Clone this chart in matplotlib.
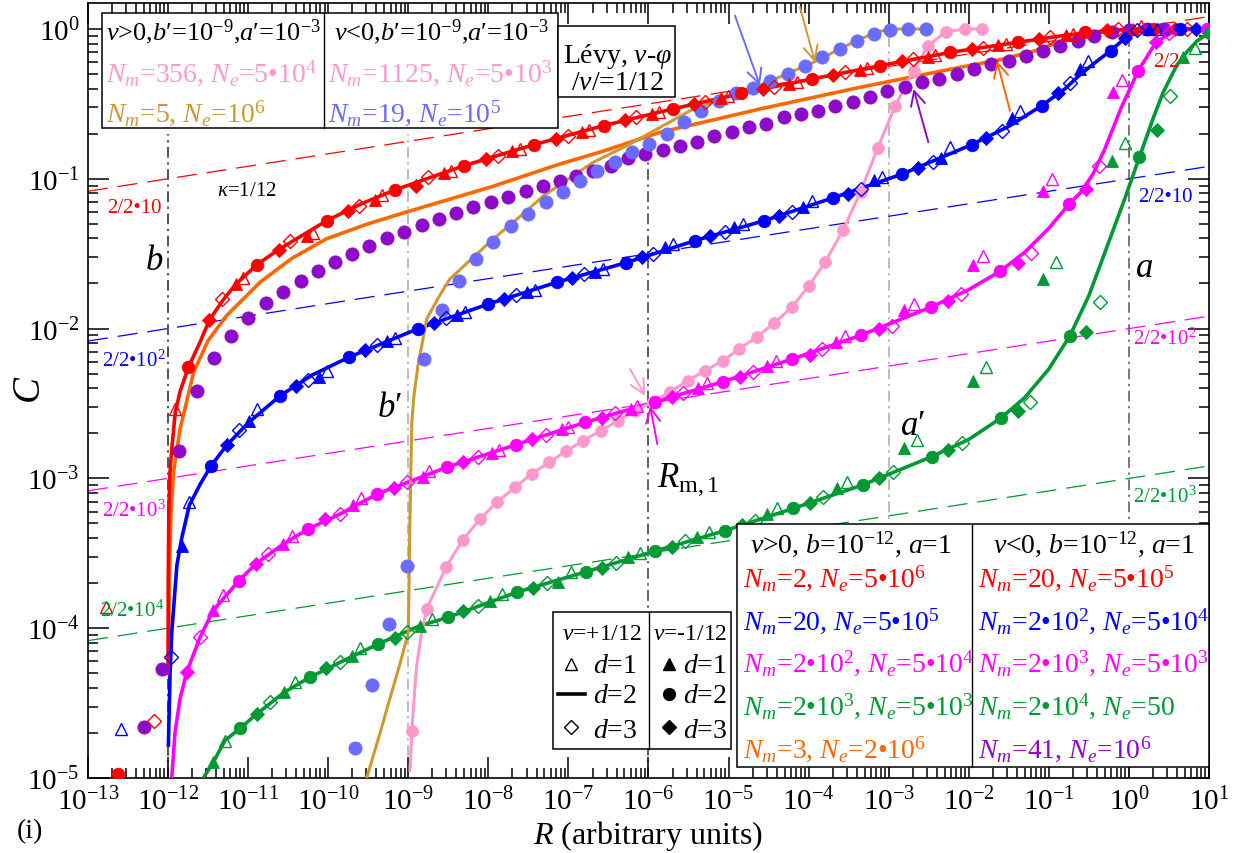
import numpy as np
import matplotlib
matplotlib.use('Agg')
import matplotlib.pyplot as plt
from matplotlib.patches import Rectangle
from matplotlib.ticker import LogLocator, FuncFormatter, NullFormatter

plt.rcParams['font.family'] = ['Liberation Serif', 'DejaVu Serif']
plt.rcParams['mathtext.fontset'] = 'custom'
plt.rcParams['mathtext.rm'] = 'Liberation Serif'
plt.rcParams['mathtext.it'] = 'Liberation Serif:italic'
plt.rcParams['mathtext.bf'] = 'Liberation Serif:bold'
plt.rcParams['mathtext.default'] = 'it'

# ---------------- data (log10 R , log10 C) ----------------
# red, v>0, b=1e-12 (line) and v<0 markers
red_line_x = [-11.9996, -11.998, -11.99, -11.975, -11.95, -11.91, -11.85, -11.746, -11.6, -11.483, -11.3, -11.15, -10.89, -10.62, -10.3, -10.02, -9.6, -9.16, -8.30, -7.43, -6.56, -5.70, -4.84, -3.96, -3.11, -2.23, -1.39, -0.9, -0.55, -0.2, 0.2, 1.0]
red_line_y = [-4.3, -3.7, -3.2, -2.95, -2.78, -2.56, -2.42, -2.258, -2.09, -1.941, -1.80, -1.702, -1.573, -1.473, -1.37, -1.28, -1.17, -1.073, -0.912, -0.772, -0.645, -0.534, -0.43, -0.334, -0.245, -0.156, -0.089, -0.05, -0.025, -0.008, 0.0, 0.0]
red_c_x = [-11.746, -10.89, -10.02, -9.16, -8.30, -7.43, -6.56, -5.70, -4.84, -3.96, -3.11, -2.23, -1.39, -0.55, 0.3]
red_c_y = [-2.258, -1.573, -1.28, -1.073, -0.912, -0.772, -0.645, -0.534, -0.43, -0.334, -0.245, -0.156, -0.089, -0.022, 0.0]
red_d_x = [-11.483, -10.62, -9.75, -8.90, -8.03, -7.16, -6.29, -5.43, -4.57, -3.69, -2.84, -1.96, -1.12, -0.28, 0.58]
red_d_y = [-1.941, -1.473, -1.215, -1.046, -0.868, -0.733, -0.61, -0.502, -0.40, -0.306, -0.217, -0.135, -0.065, -0.01, 0.0]
red_od_x = [-12.18, -11.33, -10.48, -9.61, -8.75, -7.876, -7.01, -6.15, -5.29, -4.43, -3.55, -2.70, -1.82, -0.98, -0.14, 0.72]
red_od_y = [-4.62, -1.802, -1.413, -1.18, -0.99, -0.846, -0.712, -0.59, -0.485, -0.385, -0.29, -0.203, -0.124, -0.055, 0.0, 0.0]
red_t_x = [-11.15, -10.27, -9.42, -8.56, -7.70, -6.83, -5.96, -5.10, -4.24, -3.36, -2.51, -1.63, -0.79, 0.05]
red_t_y = [-1.702, -1.385, -1.14, -0.96, -0.815, -0.685, -0.567, -0.46, -0.364, -0.272, -0.185, -0.108, -0.04, 0.0]
red_ot_x = [-12.775, -11.91, -11.06, -10.19, -9.33, -8.47, -7.61, -6.74, -5.87, -5.01, -4.15, -3.27, -2.42, -1.54, -0.70, 0.15]
red_ot_y = [-3.86, -2.54, -1.66, -1.36, -1.11, -0.945, -0.80, -0.672, -0.555, -0.45, -0.354, -0.262, -0.175, -0.10, -0.035, 0.02]
red_stray_x = [-12.62]
red_stray_y = [-4.97]

# blue
blue_line_x = [-11.996, -11.975, -11.954, -11.89, -11.83, -11.735, -11.6, -11.468, -11.27, -11.0, -10.60, -10.2, -9.737, -8.875, -8.0, -7.146, -6.28, -5.42, -4.557, -3.70, -2.83, -1.964, -1.5, -1.09, -0.8, -0.6, -0.4, -0.228, -0.05, 0.15, 1.0]
blue_line_y = [-4.78, -4.3, -4.03, -3.58, -3.40, -3.18, -3.04, -2.92, -2.78, -2.63, -2.448, -2.31, -2.19, -2.0, -1.836, -1.691, -1.56, -1.413, -1.28, -1.128, -0.968, -0.772, -0.65, -0.512, -0.40, -0.30, -0.215, -0.145, -0.062, -0.005, 0.0]
blue_c_x = [-11.468, -10.60, -9.737, -8.875, -8.0, -7.146, -6.28, -5.42, -4.557, -3.70, -2.83, -1.964, -1.09, -0.228, 0.64]
blue_c_y = [-2.92, -2.448, -2.19, -2.0, -1.836, -1.691, -1.56, -1.413, -1.28, -1.128, -0.968, -0.772, -0.512, -0.145, 0.0]
blue_d_x = [-11.27, -10.40, -9.54, -8.675, -7.80, -6.95, -6.08, -5.23, -4.37, -3.505, -2.63, -1.78, -0.89, -0.05, 0.84]
blue_d_y = [-2.78, -2.38, -2.14, -1.96, -1.80, -1.66, -1.525, -1.38, -1.246, -1.10, -0.925, -0.73, -0.43, -0.062, 0.0]
blue_od_x = [-11.967, -11.12, -10.25, -9.39, -8.525, -7.65, -6.80, -5.94, -5.04, -4.21, -3.35, -2.45, -1.59, -0.74, 0.1]
blue_od_y = [-4.19, -2.68, -2.34, -2.11, -1.93, -1.775, -1.635, -1.502, -1.357, -1.22, -1.065, -0.89, -0.683, -0.36, -0.01]
blue_t_x = [-11.83, -10.99, -10.12, -9.26, -8.395, -7.52, -6.67, -5.795, -4.93, -4.07, -3.19, -2.35, -1.466, -0.61, 0.25]
blue_t_y = [-3.45, -2.615, -2.32, -2.08, -1.91, -1.755, -1.62, -1.457, -1.324, -1.186, -1.008, -0.86, -0.594, -0.27, 0.0]
blue_ot_x = [-12.59, -11.735, -10.89, -10.02, -9.16, -8.295, -7.42, -6.57, -5.69, -4.82, -3.96, -3.09, -2.235, -1.36, -0.507, 0.35]
blue_ot_y = [-4.67, -3.16, -2.54, -2.28, -2.06, -1.89, -1.74, -1.60, -1.435, -1.30, -1.15, -0.99, -0.79, -0.545, -0.212, 0.0]

# magenta
mag_line_x = [-11.954, -11.913, -11.85, -11.768, -11.60, -11.435, -11.115, -10.905, -10.56, -10.25, -9.853, -9.387, -8.52, -7.655, -6.79, -5.925, -5.066, -4.204, -3.34, -2.477, -2.0, -1.61, -1.3, -1.0, -0.745, -0.6, -0.45, -0.3, -0.1, 0.117, 0.338, 0.55, 0.8, 1.0]
mag_line_y = [-5.0, -4.695, -4.47, -4.295, -4.06, -3.88, -3.683, -3.571, -3.438, -3.338, -3.238, -3.104, -2.926, -2.775, -2.626, -2.49, -2.354, -2.203, -2.043, -1.858, -1.74, -1.618, -1.49, -1.33, -1.168, -1.09, -0.97, -0.80, -0.53, -0.278, -0.089, -0.02, 0.0, 0.0]
mag_c_x = [-11.115, -10.25, -9.387, -8.52, -7.655, -6.79, -5.925, -5.066, -4.204, -3.34, -2.477, -1.61, -0.745, 0.117, 0.98]
mag_c_y = [-3.683, -3.338, -3.104, -2.926, -2.775, -2.626, -2.49, -2.354, -2.203, -2.043, -1.858, -1.618, -1.168, -0.278, 0.0]
mag_d_x = [-11.768, -10.905, -10.04, -9.175, -8.313, -7.45, -6.585, -5.71, -4.86, -3.98, -3.117, -2.255, -1.39, -0.536, 0.338]
mag_d_y = [-4.295, -3.571, -3.271, -3.066, -2.889, -2.74, -2.595, -2.459, -2.32, -2.176, -2.003, -1.813, -1.562, -1.068, -0.089]
mag_od_x = [-11.60, -10.748, -9.853, -9.02, -8.126, -7.28, -6.42, -5.565, -4.69, -3.83, -2.963, -2.10, -1.227, -0.37, 0.5]
mag_od_y = [-4.06, -3.505, -3.238, -3.026, -2.86, -2.71, -2.565, -2.43, -2.29, -2.136, -1.98, -1.77, -1.495, -0.912, -0.03]
mag_t_x = [-11.435, -10.56, -9.687, -8.81, -7.95, -7.08, -6.22, -5.38, -4.52, -3.66, -2.805, -1.944, -1.07, -0.203]
mag_t_y = [-3.88, -3.438, -3.178, -2.99, -2.83, -2.67, -2.535, -2.399, -2.248, -2.087, -1.876, -1.573, -1.083, -0.418]
mag_ot_x = [-11.32, -10.456, -9.594, -8.737, -7.87, -7.0, -6.14, -5.275, -4.41, -3.546, -2.68, -1.82, -0.955, -0.09]
mag_ot_y = [-3.78, -3.383, -3.133, -2.949, -2.81, -2.655, -2.515, -2.363, -2.214, -2.047, -1.836, -1.513, -1.0, -0.34]

# green
grn_line_x = [-11.56, -11.435, -11.29, -11.10, -10.893, -10.55, -10.23, -9.853, -9.374, -8.854, -8.50, -7.646, -6.78, -5.915, -5.044, -4.19, -3.327, -2.463, -2.0, -1.598, -1.3, -1.0, -0.736, -0.5, -0.278, -0.05, 0.13, 0.3, 0.43, 0.6, 0.72, 0.85, 1.0]
grn_line_y = [-5.0, -4.895, -4.75, -4.668, -4.573, -4.428, -4.328, -4.228, -4.105, -3.983, -3.927, -3.76, -3.623, -3.485, -3.349, -3.2, -3.044, -2.855, -2.74, -2.597, -2.46, -2.27, -2.047, -1.78, -1.46, -1.13, -0.857, -0.60, -0.42, -0.24, -0.156, -0.08, -0.027]
grn_c_x = [-11.10, -10.23, -9.374, -8.50, -7.646, -6.78, -5.915, -5.044, -4.19, -3.327, -2.463, -1.598, -0.736, 0.13, 1.01]
grn_c_y = [-4.668, -4.328, -4.105, -3.927, -3.76, -3.623, -3.485, -3.349, -3.2, -3.044, -2.855, -2.597, -2.047, -0.857, -0.027]
grn_d_x = [-10.893, -10.03, -9.166, -8.313, -7.44, -6.585, -5.71, -4.838, -3.98, -3.117, -2.255, -1.39, -0.536, 0.347]
grn_d_y = [-4.573, -4.268, -4.067, -3.883, -3.734, -3.6, -3.455, -3.31, -3.164, -3.0, -2.808, -2.552, -2.02, -0.674]
grn_od_x = [-10.727, -9.853, -9.02, -8.126, -7.27, -6.41, -5.54, -4.67, -3.82, -2.943, -2.09, -1.235, -0.36, 0.513]
grn_od_y = [-4.495, -4.228, -4.027, -3.85, -3.70, -3.565, -3.42, -3.282, -3.126, -2.959, -2.764, -2.492, -1.824, -0.445]
grn_t_x = [-11.435, -10.55, -9.707, -8.854, -7.98, -7.13, -6.25, -5.39, -4.524, -3.65, -2.805, -1.944, -1.07, -0.207, 0.67]
grn_t_y = [-4.895, -4.428, -4.183, -3.983, -3.816, -3.69, -3.527, -3.39, -3.238, -3.066, -2.8, -2.348, -1.669, -0.879, -0.189]
grn_ot_x = [-11.29, -10.415, -9.603, -8.71, -7.834, -6.97, -6.10, -5.24, -4.4, -3.525, -2.65, -1.78, -0.91, -0.05, 0.826]
grn_ot_y = [-4.75, -4.36, -4.134, -3.938, -3.772, -3.627, -3.50, -3.36, -3.2, -3.022, -2.742, -2.258, -1.557, -0.763, -0.129]

# orange line (v>0, Nm=3)
org_line_x = [-11.995, -11.985, -11.965, -11.93, -11.85, -11.68, -11.5, -11.27, -10.85, -10.45, -10.02, -9.5, -8.98, -7.94, -7.105, -6.61, -5.856, -4.607, -3.358, -2.11, -1.65, -1.2, -0.86, -0.6, -0.2, 1.0]
org_line_y = [-4.23, -3.7, -3.25, -2.95, -2.67, -2.29, -2.08, -1.914, -1.69, -1.53, -1.40, -1.30, -1.215, -1.05, -0.901, -0.823, -0.69, -0.534, -0.389, -0.256, -0.21, -0.15, -0.085, -0.04, -0.005, 0.0]

# purple circles (v<0, Nm=41)
pur_x = [-12.30, -12.08, -11.86, -11.643, -11.427, -11.214, -10.998, -10.78, -10.56, -10.344, -10.13, -9.915, -9.70, -9.487, -9.27, -9.05, -8.833, -8.617, -8.404, -8.188, -7.967, -7.75, -7.534, -7.32, -7.105, -6.90, -6.69, -6.47, -6.26, -6.04, -5.82, -5.61, -5.39, -5.18, -4.96, -4.75, -4.53, -4.31, -4.10, -3.88, -3.67, -3.45, -3.23, -3.02, -2.80, -2.58, -2.37, -2.15, -1.94, -1.72, -1.50, -1.29, -1.07, -0.86, -0.64, -0.43, -0.21, 0.0, 0.22, 0.44]
pur_y = [-4.66, -4.27, -2.815, -2.414, -2.198, -2.051, -1.931, -1.829, -1.753, -1.68, -1.613, -1.557, -1.502, -1.447, -1.397, -1.357, -1.308, -1.268, -1.228, -1.19, -1.153, -1.119, -1.079, -1.046, -1.013, -0.979, -0.946, -0.912, -0.862, -0.834, -0.806, -0.779, -0.752, -0.712, -0.686, -0.656, -0.634, -0.589, -0.567, -0.545, -0.512, -0.489, -0.456, -0.412, -0.389, -0.356, -0.334, -0.30, -0.267, -0.234, -0.212, -0.178, -0.145, -0.111, -0.078, -0.049, -0.022, -0.005, 0.0, 0.0]

# light blue circles (v<0, Nm=19, b'=1e-9)
lb_x = [-9.665, -9.45, -9.237, -9.02, -8.80, -8.583, -8.366, -8.154, -7.94, -7.72, -7.51, -7.285, -7.07, -6.855, -6.64, -6.42, -6.21, -5.99, -5.77, -5.56, -5.34, -5.12, -4.91, -4.69, -4.48, -4.26, -4.05, -3.83, -3.61, -3.40, -3.19, -2.98, -2.76, -2.54]
lb_y = [-4.80, -4.377, -3.972, -3.583, -2.203, -1.874, -1.68, -1.535, -1.42, -1.317, -1.235, -1.153, -1.086, -1.013, -0.95, -0.885, -0.823, -0.765, -0.70, -0.62, -0.545, -0.48, -0.43, -0.395, -0.35, -0.30, -0.25, -0.19, -0.135, -0.08, -0.035, -0.005, 0.0, 0.0]

# gold line (v>0, Nm=5, b'=1e-9)
gold_x = [-9.52, -9.35, -9.23, -9.10, -9.0, -8.99, -8.98, -8.97, -8.955, -8.93, -8.88, -8.82, -8.77, -8.62, -8.48, -8.2, -7.94, -7.6, -7.31, -6.69, -6.27, -5.44, -4.607, -3.94, -3.36, -3.1, -2.98, -2.53]
gold_y = [-5.0, -4.695, -4.47, -4.23, -4.03, -3.7, -3.3, -3.0, -2.62, -2.45, -2.25, -2.08, -1.936, -1.79, -1.669, -1.53, -1.402, -1.25, -1.113, -0.89, -0.779, -0.534, -0.378, -0.222, -0.067, -0.015, 0.0, 0.0]

# pink (Nm=356 / 1125, b'=1e-9, a'=1e-3)
pink_line_x = [-8.978, -8.957, -8.896, -8.833, -8.77, -8.53, -8.32, -8.104, -7.888, -7.667, -7.46, -7.24, -7.03, -6.814, -6.597, -6.377, -6.17, -5.94, -5.73, -5.51, -5.295, -5.07, -4.866, -4.65, -4.43, -4.21, -4.0, -3.79, -3.567, -3.35, -3.14, -2.92, -2.69, -2.51, -2.28, -2.05, -1.83]
pink_line_y = [-4.95, -4.684, -4.25, -4.03, -3.872, -3.594, -3.41, -3.271, -3.156, -3.06, -2.97, -2.893, -2.819, -2.748, -2.681, -2.615, -2.548, -2.488, -2.421, -2.348, -2.281, -2.214, -2.136, -2.058, -1.963, -1.858, -1.718, -1.553, -1.34, -1.086, -0.797, -0.516, -0.278, -0.111, -0.018, 0.0, 0.0]
pink_c_x = [-8.957, -8.77, -8.53, -8.32, -8.104, -7.888, -7.667, -7.46, -7.24, -7.03, -6.814, -6.597, -6.377, -6.17, -5.94, -5.73, -5.51, -5.295, -5.07, -4.866, -4.65, -4.43, -4.21, -4.0, -3.79, -3.567, -3.35, -3.14, -2.92, -2.69, -2.51, -2.28, -2.05, -1.83]
pink_c_y = [-4.684, -3.872, -3.594, -3.41, -3.271, -3.156, -3.06, -2.97, -2.893, -2.819, -2.748, -2.681, -2.615, -2.548, -2.488, -2.421, -2.348, -2.281, -2.214, -2.136, -2.058, -1.963, -1.858, -1.718, -1.553, -1.34, -1.086, -0.797, -0.516, -0.278, -0.111, -0.018, 0.0, 0.0]

# reference dashed lines C = k (R/b)^(1/12): end points
dash_x = [-13.0, 1.0]
dash_red_y = [-1.083, 0.083]
dash_blue_y = [-2.083, -0.917]
dash_mag_y = [-3.083, -1.917]
dash_grn_y = [-4.083, -2.917]

# vertical markers b, b', R_m1, a', a
vline_x = [-12.0, -9.0, -6.0, -3.0, 0.0]

COL = dict(red='#ff0000', blue='#0000ff', mag='#ff00ff', grn='#009933',
           org='#ff6600', pur='#8c0ac8', lb='#6b6bff', pink='#ff99cc', gold='#cc9933')


def P(v):
    return 10.0 ** np.asarray(v, dtype=float)


def AX(px, py):
    return ((px - 88) / 1121.0, (779 - py) / 775.0)


fig = plt.figure(figsize=(12.43, 8.54), dpi=100)
ax = fig.add_axes([88 / 1243, 75 / 854, 1121 / 1243, 775 / 854])
ax.set_xscale('log')
ax.set_yscale('log')
ax.set_xlim(1e-13, 1e1)
ax.set_ylim(1e-5, 1.491)

ax.xaxis.set_major_locator(LogLocator(base=10, numticks=30))
ax.xaxis.set_minor_locator(LogLocator(base=10, subs=np.arange(2, 10), numticks=300))
ax.yaxis.set_major_locator(LogLocator(base=10, numticks=30))
ax.yaxis.set_minor_locator(LogLocator(base=10, subs=np.arange(2, 10), numticks=300))
fmt = FuncFormatter(lambda v, p: '10' + r'$^{\mathrm{%d}}$' % int(round(np.log10(v))))
ax.xaxis.set_major_formatter(fmt)
ax.yaxis.set_major_formatter(fmt)
ax.xaxis.set_minor_formatter(NullFormatter())
ax.yaxis.set_minor_formatter(NullFormatter())
ax.tick_params(which='both', direction='in', top=True, right=True, width=1.1)
ax.tick_params(which='major', length=15, labelsize=21, pad=6)
ax.tick_params(axis='x', which='major', pad=6)
ax.tick_params(which='minor', length=7.5)
for s in ax.spines.values():
    s.set_linewidth(1.2)

# dashed reference lines
for yy, c in [(dash_red_y, COL['red']), (dash_blue_y, COL['blue']), (dash_mag_y, COL['mag']), (dash_grn_y, COL['grn'])]:
    ax.plot(P(dash_x), P(yy), color=c, lw=0.9, dashes=(16, 8), zorder=2)

# vertical lines
vcols = ['#222222', '#aaaaaa', '#333333', '#aaaaaa', '#555555']
vtops = [0.2, 0.2, 10 ** -0.72, 1.0, 1.0]
for xv, c, tp in zip(vline_x, vcols, vtops):
    ax.plot([P(xv), P(xv)], [1e-5, tp], color=c, lw=1.1, dashes=(7, 3, 1.5, 3), zorder=1.5)

# solid lines
ax.plot(P(org_line_x), P(org_line_y), color=COL['org'], lw=2.6, zorder=3)
ax.plot(P(red_line_x), P(red_line_y), color=COL['red'], lw=2.6, zorder=3.2)
ax.plot(P(blue_line_x), P(blue_line_y), color=COL['blue'], lw=2.6, zorder=3)
ax.plot(P(mag_line_x), P(mag_line_y), color=COL['mag'], lw=2.6, zorder=3)
ax.plot(P(grn_line_x), P(grn_line_y), color=COL['grn'], lw=2.6, zorder=3)
ax.plot(P(gold_x), P(gold_y), color=COL['gold'], lw=2.2, zorder=3)
ax.plot(P(pink_line_x), P(pink_line_y), color=COL['pink'], lw=2.2, zorder=3)


def mk(xs, ys, marker, color, filled, ms, z=5):
    ax.plot(P(xs), P(ys), ls='none', marker=marker, ms=ms,
            mfc=color if filled else 'none', mec=color,
            mew=0.6 if filled else 1.0, zorder=z, clip_on=True)


for key, sets in [('red', (red_c_x, red_c_y, red_d_x, red_d_y, red_od_x, red_od_y, red_t_x, red_t_y, red_ot_x, red_ot_y)),
                  ('blue', (blue_c_x, blue_c_y, blue_d_x, blue_d_y, blue_od_x, blue_od_y, blue_t_x, blue_t_y, blue_ot_x, blue_ot_y)),
                  ('mag', (mag_c_x, mag_c_y, mag_d_x, mag_d_y, mag_od_x, mag_od_y, mag_t_x, mag_t_y, mag_ot_x, mag_ot_y)),
                  ('grn', (grn_c_x, grn_c_y, grn_d_x, grn_d_y, grn_od_x, grn_od_y, grn_t_x, grn_t_y, grn_ot_x, grn_ot_y))]:
    c = COL[key]
    cx, cy, dx, dy, odx, ody, tx, ty, otx, oty = sets
    mk(otx, oty, '^', c, False, 8.5)
    mk(odx, ody, 'D', c, False, 7.5)
    mk(tx, ty, '^', c, True, 9)
    mk(dx, dy, 'D', c, True, 7.5)
    mk(cx, cy, 'o', c, True, 9)

mk(red_stray_x, red_stray_y, 'o', COL['red'], True, 9)
mk(pur_x, pur_y, 'o', COL['pur'], True, 9.5, z=4)
mk(lb_x, lb_y, 'o', COL['lb'], True, 9.5, z=4)
mk(pink_c_x, pink_c_y, 'o', COL['pink'], True, 8.5, z=4)

# arrows (tail -> head), in log10 data coords
arrows = [((-4.92, 0.089), (-4.607, -0.378), COL['lb']),
          ((-4.108, 0.145), (-3.92, -0.222), COL['gold']),
          ((-2.505, -0.756), (-2.69, -0.40), COL['pur']),
          ((-1.485, -0.545), (-1.65, -0.212), COL['org']),
          ((-6.23, -2.27), (-6.04, -2.45), COL['pink']),
          ((-5.89, -2.77), (-5.98, -2.517), COL['mag'])]
for (t, h, c) in arrows:
    ax.annotate('', xy=(P(h[0]), P(h[1])), xytext=(P(t[0]), P(t[1])),
                arrowprops=dict(arrowstyle='->', color=c, lw=1.4, mutation_scale=26,
                                shrinkA=0, shrinkB=0), zorder=8, annotation_clip=False)

# ---------------- texts inside the axes ----------------
def T(px, py, s, color='black', size=20, ha='left', va='baseline', z=12):
    x, y = AX(px, py)
    ax.text(x, y, s, transform=ax.transAxes, color=color, fontsize=size, ha=ha, va=va, zorder=z)

T(217, 196, r'$\kappa$=1/12', size=15)
T(145, 270, r'$b$', size=25)
T(377, 417, r'$b$′', size=25)
T(657, 487, r'$R_{\mathrm{m,1}}$', size=25)
T(900, 435, r'$a$′', size=25)
T(1135, 277, r'$a$', size=25)

T(107, 213, r'2/2•10', COL['red'], 15)
T(102, 367, r'2/2•10$^\mathrm{2}$', COL['blue'], 15)
T(102, 517, r'2/2•10$^\mathrm{3}$', COL['mag'], 15)
T(100, 617, r'2/2•10$^\mathrm{4}$', COL['grn'], 15)
T(1153, 67, r'2/2', COL['red'], 15)
T(1138, 202, r'2/2•10', COL['blue'], 15)
T(1133, 345, r'2/2•10$^\mathrm{2}$', COL['mag'], 15)
T(1133, 503, r'2/2•10$^\mathrm{3}$', COL['grn'], 15)

# ---------------- boxes ----------------
def box(px0, py0, px1, py1, divs=()):
    x0, y0 = AX(px0, py1)
    x1, y1 = AX(px1, py0)
    ax.add_patch(Rectangle((x0, y0), x1 - x0, y1 - y0, transform=ax.transAxes,
                           fc='white', ec='black', lw=1.1, zorder=10, clip_on=False))
    for d in divs:
        xd, _ = AX(d, 0)
        ax.plot([xd, xd], [y0, y1], transform=ax.transAxes, color='black', lw=1.0, zorder=11, clip_on=False)

box(101.7, 14, 557.7, 129.3, divs=(323.7,))
box(557.7, 26.7, 675, 98.3)
box(552.7, 612.7, 730.7, 750, divs=(649,))
box(736.7, 525, 1209, 768.3, divs=(972.3,))

E = lambda s: r'$^{\mathrm{' + s + '}}$'

T(106, 40, r'$v$>0,$b$′=10' + E('-9') + ',$a$′=10' + E('-3'), 'black', 19)
T(106, 82, r'$N_m$=356, $N_e$=5•10' + E('4'), COL['pink'], 20)
T(106, 122, r'$N_m$=5, $N_e$=10' + E('6'), COL['gold'], 20)
T(334, 40, r'$v$<0,$b$′=10' + E('-9') + ',$a$′=10' + E('-3'), 'black', 19)
T(328, 82, r'$N_m$=1125, $N_e$=5•10' + E('3'), COL['pink'], 20)
T(328, 122, r'$N_m$=19, $N_e$=10' + E('5'), COL['lb'], 20)

T(618, 63, r'Lévy, $v$-$\varphi$', 'black', 20, ha='center')
T(618, 90, r'/$v$/=1/12', 'black', 20, ha='center')

T(750, 553, r'$v$>0, $b$=10' + E('-12') + ', $a$=1', 'black', 20)
T(743, 587, r'$N_m$=2, $N_e$=5•10' + E('6'), COL['red'], 20)
T(743, 630, r'$N_m$=20, $N_e$=5•10' + E('5'), COL['blue'], 20)
T(743, 672, r'$N_m$=2•10' + E('2') + r', $N_e$=5•10' + E('4'), COL['mag'], 20)
T(743, 715, r'$N_m$=2•10' + E('3') + r', $N_e$=5•10' + E('3'), COL['grn'], 20)
T(743, 758, r'$N_m$=3, $N_e$=2•10' + E('6'), COL['org'], 20)
T(993, 553, r'$v$<0, $b$=10' + E('-12') + ', $a$=1', 'black', 20)
T(978, 587, r'$N_m$=20, $N_e$=5•10' + E('5'), COL['red'], 20)
T(978, 630, r'$N_m$=2•10' + E('2') + r', $N_e$=5•10' + E('4'), COL['blue'], 20)
T(978, 672, r'$N_m$=2•10' + E('3') + r', $N_e$=5•10' + E('3'), COL['mag'], 20)
T(978, 715, r'$N_m$=2•10' + E('4') + r', $N_e$=50', COL['grn'], 20)
T(978, 758, r'$N_m$=41, $N_e$=10' + E('6'), COL['pur'], 20)

# small symbol legend
T(562, 640, r'$v$=+1/12', 'black', 17)
T(653, 640, r'$v$=-1/12', 'black', 17)
for py, lab in [(673, r'$d$=1'), (703, r'$d$=2'), (738, r'$d$=3')]:
    T(593, py, lab, 'black', 20)
    T(683, py, lab, 'black', 20)
lx_, ly1 = AX(570.7, 665)
ax.plot([lx_], [ly1], transform=ax.transAxes, marker='^', ms=8, mfc='none', mec='black', mew=1.0, ls='none', zorder=12, clip_on=False)
a0, ly2 = AX(558, 695)
a1, _ = AX(585, 695)
ax.plot([a0, a1], [ly2, ly2], transform=ax.transAxes, color='black', lw=2.6, zorder=12, clip_on=False)
_, ly3 = AX(570.7, 728)
ax.plot([lx_], [ly3], transform=ax.transAxes, marker='D', ms=7, mfc='none', mec='black', mew=1.0, ls='none', zorder=12, clip_on=False)
rx_, _ = AX(669.3, 0)
ax.plot([rx_], [ly1], transform=ax.transAxes, marker='^', ms=8.5, color='black', ls='none', zorder=12, clip_on=False)
ax.plot([rx_], [ly2], transform=ax.transAxes, marker='o', ms=8.5, color='black', ls='none', zorder=12, clip_on=False)
ax.plot([rx_], [ly3], transform=ax.transAxes, marker='D', ms=7, color='black', ls='none', zorder=12, clip_on=False)

# axis labels
fig.text(30 / 1243, 1 - 390 / 854, r'$C$', fontsize=28, rotation=90, ha='center', va='center')
fig.text(648 / 1243, 1 - 836 / 854, r'$R$ (arbitrary units)', fontsize=23, ha='center', va='center')
fig.text(17 / 1243, 1 - 838 / 854, '(i)', fontsize=20, ha='left', va='baseline')

fig.savefig('out.png', dpi=100)
